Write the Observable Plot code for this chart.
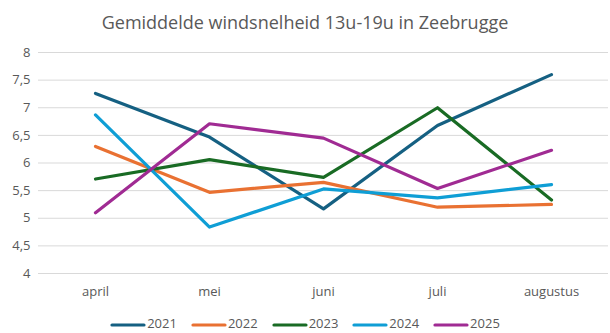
<!DOCTYPE html>
<html><head><meta charset="utf-8">
<script src="https://cdn.jsdelivr.net/npm/d3@7"></script>
<script src="https://cdn.jsdelivr.net/npm/@observablehq/plot@0.6"></script>
<style>
body{margin:0;background:#fff;font-family:"Open Sans",sans-serif;}
#wrap{width:610px;height:333px;position:relative;overflow:hidden;}
#title{height:40px;line-height:44px;text-align:center;font-size:18px;color:#595959;}
#legend{position:absolute;top:314px;left:0;width:610px;text-align:center;font-size:13px;color:#595959;}
#legend span.item{display:inline-block;margin:0 7px;}
#legend svg{vertical-align:middle;margin-right:1px;}
</style></head>
<body><div id="wrap"><div id="title">Gemiddelde windsnelheid 13u-19u in Zeebrugge</div><div id="chart"></div><div id="legend"></div></div>
<script>
const months = ["april","mei","juni","juli","augustus"];
const years = ["2021","2022","2023","2024","2025"];
const colors = ["#156082","#E97132","#196B24","#0F9ED5","#A02B93"];
const v2021 = [7.26, 6.47, 5.17, 6.68, 7.60];
const v2022 = [6.30, 5.47, 5.65, 5.20, 5.25];
const v2023 = [5.71, 6.06, 5.74, 7.00, 5.33];
const v2024 = [6.87, 4.84, 5.53, 5.37, 5.61];
const v2025 = [5.10, 6.71, 6.45, 5.54, 6.23];
const yTicks = [4, 4.5, 5, 5.5, 6, 6.5, 7, 7.5, 8];

const series = [v2021, v2022, v2023, v2024, v2025];
const data = [];
years.forEach((y, i) => months.forEach((m, j) => data.push({year: y, month: m, value: series[i][j]})));

const chart = Plot.plot({
  width: 610, height: 260,
  marginTop: 12, marginBottom: 27, marginLeft: 38, marginRight: 2,
  style: {fontFamily: "'Open Sans', sans-serif", fontSize: "13px", color: "#595959", background: "#fff"},
  x: {type: "point", domain: months, padding: 0.5, label: null},
  y: {domain: [4, 8], ticks: yTicks, label: null},
  color: {domain: years, range: colors},
  marks: [
    Plot.gridY(yTicks, {stroke: "#d9d9d9", strokeOpacity: 1, strokeWidth: 1}),
    Plot.axisY(yTicks, {tickSize: 0, tickPadding: 8, tickFormat: d => String(d).replace(".", ","), fill: "#595959", fontSize: 13}),
    Plot.axisX({tickSize: 0, tickPadding: 13, fill: "#595959", fontSize: 13}),
    Plot.line(data, {x: "month", y: "value", z: "year", stroke: "year", strokeWidth: 3.2, strokeLinejoin: "round", strokeLinecap: "round"})
  ]
});
document.getElementById("chart").appendChild(chart);

const leg = document.getElementById("legend");
years.forEach((y, i) => {
  const s = document.createElement("span");
  s.className = "item";
  s.innerHTML = `<svg width="36" height="8"><line x1="2" y1="4" x2="34" y2="4" stroke="${colors[i]}" stroke-width="3.2" stroke-linecap="round"/></svg>${y}`;
  leg.appendChild(s);
});
</script></body></html>
